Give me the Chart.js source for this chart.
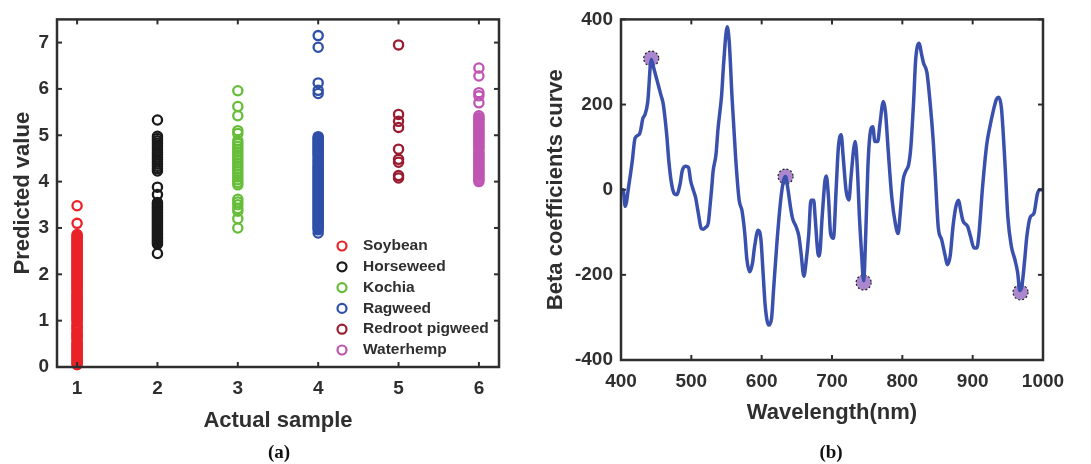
<!DOCTYPE html>
<html><head><meta charset="utf-8">
<script src="https://cdn.jsdelivr.net/npm/chart.js@4.4.0/dist/chart.umd.min.js"></script>
<style>
html,body{margin:0;padding:0;background:#fff;width:1091px;height:464px;overflow:hidden;}
#ca{position:absolute;left:0;top:0;}
#cb{position:absolute;left:540px;top:0;}
.cap{position:absolute;top:441px;font:bold 19px "Liberation Serif","Times New Roman",serif;color:#111;transform:translateX(-50%);line-height:22px;}
</style></head><body>
<canvas id="ca" width="545" height="464"></canvas>
<canvas id="cb" width="551" height="464"></canvas>
<div class="cap" style="left:279px">(a)</div>
<div class="cap" style="left:831px">(b)</div>
<script>
// ---------- Panel (a) data ----------
const speciesNames = ["Soybean","Horseweed","Kochia","Ragweed","Redroot pigweed","Waterhemp"];
const actualSamples = [1,2,3,4,5,6];
const soybean = [3.48,3.10,2.86,2.83,2.80,2.77,2.74,2.71,2.68,2.65,2.62,2.59,2.56,2.53,2.50,2.47,2.44,2.41,2.38,2.35,2.32,2.29,2.26,2.23,2.20,2.17,2.14,2.11,2.08,2.05,2.02,1.99,1.96,1.93,1.90,1.87,1.84,1.81,1.78,1.75,1.72,1.69,1.66,1.62,1.58,1.55,1.52,1.49,1.46,1.43,1.40,1.37,1.34,1.31,1.28,1.25,1.22,1.19,1.16,1.13,1.10,1.07,1.04,1.01,0.98,0.92,0.89,0.86,0.83,0.79,0.74,0.71,0.68,0.65,0.62,0.58,0.53,0.50,0.47,0.44,0.41,0.38,0.35,0.32,0.29,0.26,0.23,0.20,0.17,0.14,0.11,0.08,0.05];
const horseweed = [5.33,4.98,4.93,4.88,4.83,4.78,4.73,4.68,4.63,4.58,4.53,4.48,4.43,4.38,4.33,4.28,4.23,3.88,3.72,3.55,3.52,3.49,3.46,3.43,3.40,3.37,3.34,3.31,3.28,3.25,3.22,3.19,3.16,3.13,3.10,3.07,3.04,3.01,2.98,2.95,2.92,2.89,2.86,2.83,2.80,2.77,2.74,2.71,2.68,2.65,2.45];
const kochia = [5.96,5.62,5.42,5.10,5.04,4.88,4.82,4.76,4.70,4.64,4.58,4.52,4.46,4.40,4.34,4.28,4.22,4.16,4.10,4.04,3.98,3.93,3.62,3.56,3.50,3.42,3.36,3.20,3.00];
const ragweed = [7.15,6.90,6.13,5.97,5.90,4.97,4.94,4.91,4.88,4.85,4.82,4.79,4.76,4.73,4.70,4.67,4.64,4.61,4.58,4.55,4.51,4.47,4.44,4.41,4.37,4.34,4.31,4.28,4.25,4.22,4.19,4.16,4.13,4.10,4.07,4.04,4.01,3.98,3.95,3.92,3.89,3.86,3.83,3.80,3.77,3.74,3.71,3.68,3.65,3.62,3.59,3.56,3.53,3.50,3.47,3.44,3.41,3.38,3.35,3.32,3.29,3.26,3.23,3.20,3.17,3.14,3.11,3.08,3.05,3.02,2.99,2.96,2.89];
const redrootPigweed = [6.95,5.45,5.30,5.17,4.70,4.48,4.42,4.13,4.08];
const waterhemp = [6.45,6.28,5.92,5.85,5.70,5.42,5.38,5.34,5.30,5.26,5.22,5.18,5.14,5.10,5.06,5.02,4.98,4.94,4.90,4.86,4.82,4.78,4.74,4.70,4.64,4.60,4.56,4.52,4.48,4.44,4.40,4.36,4.32,4.28,4.24,4.20,4.16,4.12,4.08,4.04,4.00];
const speciesColors = ["#ea2228","#1a1a1a","#66bd38","#2f4fa8","#9a1c30","#bf55b3"];
const xTicksA = [1,2,3,4,5,6];
const yTicksA = [0,1,2,3,4,5,6,7];

// ---------- Panel (b) data ----------
const wavelengths = [400,403,406,411,416,420,426,428,431,434,438,443,447,452,457,460,465,468,472,476,479,484,487,492,496,499,503,506,510,514,517,520,524,526,529,531,535,538,543,546,551,554,558,563,568,572,576,579,583,587,590,595,599,602,605,610,614,617,622,627,631,634,637,641,644,649,653,656,660,663,667,670,674,676,680,682,686,690,692,695,698,702,706,709,713,716,720,724,727,731,733,736,739,742,745,748,751,754,758,761,765,768,773,776,780,785,790,794,797,801,805,809,812,816,819,824,827,830,835,839,844,847,851,856,861,864,868,872,876,880,883,886,893,897,902,906,909,914,920,924,929,934,937,941,946,950,955,960,964,967,970,974,977,982,987,992,995,1000];
const betas = [0,0,-39,9,67,121,130,140,167,176,206,306,283,252,221,202,129,67,13,-10,-12,13,44,55,52,21,-2,-18,-56,-91,-93,-89,-79,-49,5,44,82,144,221,298,383,344,213,75,-25,-49,-103,-164,-193,-172,-133,-95,-118,-195,-272,-318,-303,-233,-118,-25,21,31,5,-41,-68,-87,-110,-149,-203,-172,-103,-25,-25,-64,-149,-156,-64,21,32,-18,-103,-114,5,98,129,75,-2,-24,29,98,113,52,-64,-149,-214,-103,52,129,148,113,113,152,207,183,90,-18,-79,-103,-56,21,44,59,98,206,306,344,321,298,275,213,113,29,-87,-118,-156,-176,-156,-87,-41,-25,-49,-72,-87,-110,-137,-137,-103,5,106,144,183,213,217,190,59,-64,-133,-164,-195,-237,-226,-164,-110,-64,-56,-10,0,0];
const selectedWavelengths = [443,634,745,968];
const selectedBetas = [308,31,-218,-241];
const xTicksB = [400,500,600,700,800,900,1000];
const yTicksB = [-400,-200,0,200,400];

// ---------- shared styling ----------
const FONT = '"Liberation Sans", Arial, Helvetica, sans-serif';
const TXT = '#2f2f2f';
Chart.defaults.font.family = FONT;
Chart.defaults.color = TXT;

const framePlugin = {
  id: 'frame',
  afterDraw(chart) {
    const {ctx, chartArea: a, scales} = chart;
    ctx.save();
    ctx.strokeStyle = '#2e2e2e';
    ctx.lineWidth = 2.5;
    ctx.strokeRect(a.left, a.top, a.right - a.left, a.bottom - a.top);
    ctx.lineWidth = 2;
    const L = 5;
    const seg = (x1, y1, x2, y2) => { ctx.beginPath(); ctx.moveTo(x1, y1); ctx.lineTo(x2, y2); ctx.stroke(); };
    scales.x.ticks.forEach(t => {
      const p = scales.x.getPixelForValue(t.value);
      seg(p, a.bottom, p, a.bottom - L);
      seg(p, a.top, p, a.top + L);
    });
    scales.y.ticks.forEach(t => {
      const p = scales.y.getPixelForValue(t.value);
      seg(a.left, p, a.left + L, p);
      seg(a.right, p, a.right - L, p);
    });
    ctx.restore();
  }
};

const legendPlugin = {
  id: 'insideLegend',
  afterDraw(chart) {
    const ctx = chart.ctx;
    ctx.save();
    ctx.font = 'bold 15.5px ' + FONT;
    ctx.textBaseline = 'middle';
    ctx.textAlign = 'left';
    chart.data.datasets.forEach((ds, i) => {
      const y = 246 + i * 20.8;
      ctx.beginPath();
      ctx.arc(342, y, 4.5, 0, Math.PI * 2);
      ctx.strokeStyle = ds.borderColor;
      ctx.lineWidth = 2.2;
      ctx.stroke();
      ctx.fillStyle = TXT;
      ctx.fillText(ds.label, 363, y);
    });
    ctx.restore();
  }
};

const dashPlugin = {
  id: 'dashMarkers',
  beforeDatasetDraw(chart, args) {
    if (args.index === 1) { chart.ctx.save(); chart.ctx.setLineDash([2, 2]); }
  },
  afterDatasetDraw(chart, args) {
    if (args.index === 1) { chart.ctx.restore(); }
  }
};

const tickFont = {size: 19, weight: 'bold', family: FONT};
const titleFont = {size: 22, weight: 'bold', family: FONT};

// ---------- Panel (a) ----------
const seriesA = [soybean, horseweed, kochia, ragweed, redrootPigweed, waterhemp];
new Chart(document.getElementById('ca'), {
  type: 'scatter',
  data: {
    datasets: seriesA.map((vals, i) => ({
      label: speciesNames[i],
      data: vals.map(v => ({x: actualSamples[i], y: v})),
      borderColor: speciesColors[i],
      backgroundColor: 'rgba(0,0,0,0)',
      pointRadius: 4.6,
      pointBorderWidth: 2.3,
      clip: false
    }))
  },
  options: {
    responsive: false, animation: false, devicePixelRatio: 1,
    layout: {padding: {left: 0, right: 46, top: 14, bottom: 0}},
    plugins: {legend: {display: false}, tooltip: {enabled: false}},
    scales: {
      x: {
        type: 'linear', min: 0.75, max: 6.25,
        afterBuildTicks: s => { s.ticks = xTicksA.map(v => ({value: v})); },
        afterFit: s => { s.height = 97; },
        grid: {display: false, drawTicks: false}, border: {display: false},
        ticks: {font: tickFont, color: TXT, padding: 10, callback: v => String(v), maxRotation: 0},
        title: {display: true, text: 'Actual sample', font: titleFont, color: TXT, padding: {top: 0, bottom: 30}}
      },
      y: {
        type: 'linear', min: 0, max: 7.5,
        afterBuildTicks: s => { s.ticks = yTicksA.map(v => ({value: v})); },
        afterFit: s => { s.width = 57; },
        grid: {display: false, drawTicks: false}, border: {display: false},
        ticks: {font: tickFont, color: TXT, padding: 8, callback: v => String(v)},
        title: {display: true, text: 'Predicted value', font: titleFont, color: TXT, padding: {top: 10, bottom: 0}}
      }
    }
  },
  plugins: [framePlugin, legendPlugin]
});

// ---------- Panel (b) ----------
new Chart(document.getElementById('cb'), {
  type: 'line',
  data: {
    datasets: [
      {
        label: 'Beta coefficients',
        data: wavelengths.map((w, i) => ({x: w, y: betas[i]})),
        borderColor: '#3a50ad',
        borderWidth: 3.5,
        pointRadius: 0,
        cubicInterpolationMode: 'monotone',
        fill: false
      },
      {
        label: 'Selected wavelengths',
        type: 'scatter',
        data: selectedWavelengths.map((w, i) => ({x: w, y: selectedBetas[i]})),
        backgroundColor: 'rgba(150,105,195,0.8)',
        borderColor: '#222',
        pointRadius: 7.5,
        pointBorderWidth: 1.2,
        showLine: false
      }
    ]
  },
  options: {
    responsive: false, animation: false, devicePixelRatio: 1,
    layout: {padding: {left: 0, right: 48, top: 15, bottom: 0}},
    plugins: {legend: {display: false}, tooltip: {enabled: false}},
    scales: {
      x: {
        type: 'linear', min: 400, max: 1000,
        afterBuildTicks: s => { s.ticks = xTicksB.map(v => ({value: v})); },
        afterFit: s => { s.height = 104; },
        grid: {display: false, drawTicks: false}, border: {display: false},
        ticks: {font: tickFont, color: TXT, padding: 10, callback: v => String(v), maxRotation: 0},
        title: {display: true, text: 'Wavelength(nm)', font: titleFont, color: TXT, padding: {top: 0, bottom: 38}}
      },
      y: {
        type: 'linear', min: -400, max: 400,
        afterBuildTicks: s => { s.ticks = yTicksB.map(v => ({value: v})); },
        afterFit: s => { s.width = 81; },
        grid: {display: false, drawTicks: false}, border: {display: false},
        ticks: {font: tickFont, color: TXT, padding: 8, callback: v => String(v)},
        title: {display: true, text: 'Beta coefficients curve', font: titleFont, color: TXT, padding: {top: 3, bottom: 0}}
      }
    }
  },
  plugins: [framePlugin, dashPlugin]
});
</script>
</body></html>
